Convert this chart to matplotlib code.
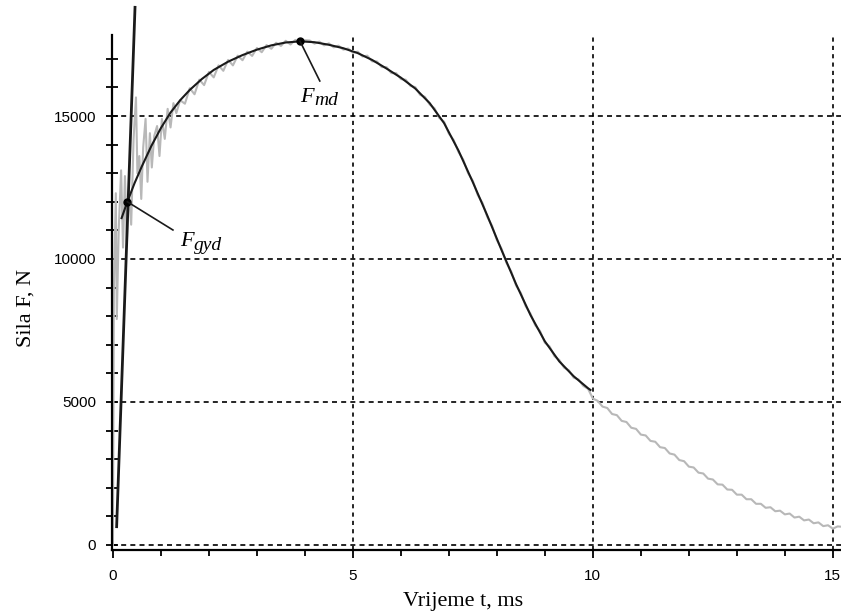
import matplotlib
matplotlib.use('Agg')
import matplotlib.pyplot as plt

# Izmjereni signal sile (sivo), t u ms, F u N
gray_t = [0.00, 0.02, 0.06, 0.08, 0.12, 0.17, 0.21, 0.25, 0.29, 0.33, 0.38, 0.43,
          0.48, 0.51, 0.55, 0.59, 0.63, 0.68, 0.72, 0.77, 0.81, 0.86, 0.92, 0.97,
          1.02, 1.08, 1.14, 1.20, 1.26, 1.32, 1.40,
          1.5, 1.6, 1.7, 1.8, 1.9, 2.0, 2.1, 2.2, 2.3, 2.4, 2.5, 2.6, 2.7, 2.8, 2.9,
          3.0, 3.1, 3.2, 3.3, 3.4, 3.5, 3.6, 3.7, 3.8, 3.9, 4.0, 4.1, 4.2, 4.3, 4.4,
          4.5, 4.6, 4.7, 4.8, 4.9, 5.0, 5.1, 5.2, 5.3, 5.4, 5.5, 5.6, 5.7, 5.8, 5.9,
          6.0, 6.1, 6.2, 6.3, 6.4, 6.5, 6.6, 6.7, 6.8, 6.9, 7.0, 7.1, 7.2, 7.3, 7.4,
          7.5, 7.6, 7.7, 7.8, 7.9, 8.0, 8.1, 8.2, 8.3, 8.4, 8.5, 8.6, 8.7, 8.8, 8.9,
          9.0, 9.1, 9.2, 9.3, 9.4, 9.5, 9.6, 9.7, 9.8, 9.9, 10.0, 10.1, 10.2, 10.3,
          10.4, 10.5, 10.6, 10.7, 10.8, 10.9, 11.0, 11.1, 11.2, 11.3, 11.4, 11.5,
          11.6, 11.7, 11.8, 11.9, 12.0, 12.1, 12.2, 12.3, 12.4, 12.5, 12.6, 12.7,
          12.8, 12.9, 13.0, 13.1, 13.2, 13.3, 13.4, 13.5, 13.6, 13.7, 13.8, 13.9,
          14.0, 14.1, 14.2, 14.3, 14.4, 14.5, 14.6, 14.7, 14.8, 14.9, 15.0, 15.1, 15.17]
gray_f = [0, 9000, 12300, 7900, 11000, 13100, 10400, 12900, 10600, 12400, 11200, 14200,
          15650, 13000, 13600, 12100, 13900, 14900, 12700, 14400, 13200, 14300, 14650, 13600,
          14900, 14200, 15250, 14600, 15450, 15100, 15550,
          15430, 15970, 15760, 16270, 16080, 16540, 16350, 16770, 16580, 16960, 16770, 17110,
          16950, 17250, 17100, 17380, 17230, 17480, 17350, 17560, 17450, 17630, 17500, 17660,
          17550, 17650, 17640, 17530, 17600, 17470, 17540, 17400, 17460, 17320, 17360, 17210,
          17250, 17080, 17110, 16910, 16910, 16710, 16710, 16500, 16500, 16290, 16270, 16050,
          16010, 15740, 15670, 15400, 15270, 14930, 14800, 14380, 14160, 13740, 13470, 13000,
          12730, 12240, 11960, 11470, 11160, 10660, 10350, 9860, 9560, 9070, 8810, 8350,
          8090, 7680, 7480, 7070, 6940, 6600, 6470, 6200, 6110, 5850, 5790, 5560, 5460, 5120,
          5040, 4840, 4790, 4580, 4540, 4340, 4300, 4100, 4060, 3860, 3830, 3640, 3610, 3420,
          3390, 3200, 3160, 2970, 2930, 2740, 2710, 2530, 2500, 2320, 2290, 2120, 2110, 1940,
          1930, 1760, 1760, 1600, 1600, 1440, 1440, 1300, 1320, 1180, 1200, 1070, 1100, 960,
          990, 860, 890, 760, 790, 660, 690, 570, 650, 640]

# Aproksimacija (crno)
fit_t = [0.18, 0.30, 0.45, 0.60, 0.80, 1.00, 1.20, 1.40, 1.60, 1.85, 2.10, 2.40, 2.70,
         3.00, 3.30, 3.60, 3.90, 4.20, 4.50, 4.80, 5.10, 5.40, 5.70, 6.00, 6.30, 6.60,
         6.90, 7.20, 7.50, 7.80, 8.10, 8.40, 8.70, 9.00, 9.30, 9.60, 9.90, 9.95]
fit_f = [11430, 12000, 12650, 13230, 13950, 14580, 15120, 15550, 15910, 16290, 16610,
         16900, 17130, 17320, 17470, 17570, 17610, 17580, 17490, 17370, 17200, 16960,
         16660, 16340, 15960, 15450, 14750, 13790, 12680, 11520, 10300, 9120, 8040,
         7120, 6420, 5900, 5480, 5420]

# Pocetni linearni porast
rise_t = [0.077, 0.46]
rise_f = [640, 18800]

# Karakteristicne tocke
pts_t = [0.30, 3.90]
pts_f = [12000, 17610]
pts_sub = ['gyd', 'md']
lbl_line_end = [(1.25, 11014), (4.31, 16224)]
lbl_pos = [(1.40, 10455), (3.90, 15500)]

x_major = [0, 5, 10, 15]
y_major = [0, 5000, 10000, 15000]

fig = plt.figure(figsize=(8.41, 6.13), dpi=100)
ax = fig.add_axes([111.5 / 841, 63 / 613, 1 - 111.5 / 841, 550 / 613])

xmin, xmax = -0.03, 15.17
ymin, ymax = -175, 19056
ytop = 17830

# mreza
dash = (0, (3, 2.5))
for y in y_major:
    ax.axhline(y, color='black', lw=1.2, ls=dash, zorder=1)
ax.vlines(x_major[1:], ymin, ytop, color='black', lw=1.2, ls=(0, (2.5, 2.5)), zorder=1)

ax.plot(gray_t, gray_f, color='#b8b8b8', lw=1.5, zorder=2)
ax.plot(fit_t, fit_f, color='#1a1a1a', lw=1.5, zorder=3)
ax.plot(rise_t, rise_f, color='#1a1a1a', lw=2.0, zorder=3)
ax.plot(pts_t, pts_f, 'o', color='black', ms=5, zorder=4)

for (px, py), end, pos, sub in zip(zip(pts_t, pts_f), lbl_line_end, lbl_pos, pts_sub):
    ax.plot([px, end[0]], [py, end[1]], color='#1a1a1a', lw=1.2, zorder=4)
    ftxt = ax.text(pos[0], pos[1], 'F', fontsize=16, fontstyle='italic',
                   fontfamily='Liberation Serif', va='baseline', ha='left', zorder=5)
    ax.annotate(sub, xy=(1, 0), xycoords=ftxt, xytext=(0.5, -2), textcoords='offset points',
                fontsize=14, fontstyle='italic', fontfamily='Liberation Serif',
                va='bottom', ha='left', zorder=5)

ax.set_xlim(xmin, xmax)
ax.set_ylim(ymin, ymax)

ax.spines['top'].set_visible(False)
ax.spines['right'].set_visible(False)
ax.spines['left'].set_bounds(ymin, ytop)
ax.spines['left'].set_linewidth(1.6)
ax.spines['bottom'].set_linewidth(1.6)

ax.set_xticks(x_major)
ax.set_xticks(range(0, 16), minor=True)
ax.set_yticks(y_major)
ax.set_yticks(range(0, 18000, 1000), minor=True)
ax.set_xticklabels([str(v) for v in x_major], fontfamily='Liberation Sans', fontsize=11)
ax.set_yticklabels([str(v) for v in y_major], fontfamily='Liberation Sans', fontsize=11)

ax.tick_params(axis='x', which='major', direction='out', length=6, width=1.3, pad=8)
ax.tick_params(axis='x', which='minor', direction='out', length=4, width=1.3)
ax.tick_params(axis='y', which='both', direction='inout', length=8, width=1.3, pad=7)

ax.set_xlabel('Vrijeme t, ms', fontfamily='Liberation Serif', fontsize=16)
ax.set_ylabel('Sila F, N', fontfamily='Liberation Serif', fontsize=16)
ax.xaxis.set_label_coords(0.482, -0.076)
ax.yaxis.set_label_coords(-0.104, 0.44)

plt.savefig('out.png', dpi=100)
